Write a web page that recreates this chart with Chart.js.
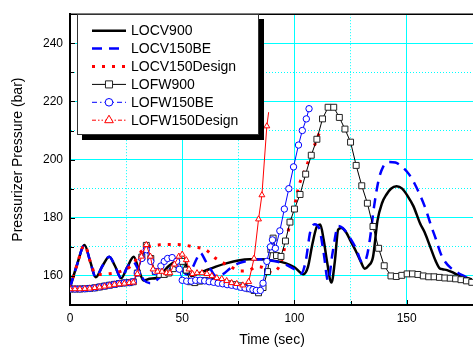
<!DOCTYPE html>
<html><head><meta charset="utf-8">
<script src="https://cdn.jsdelivr.net/npm/chart.js@4/dist/chart.umd.min.js"></script>
<style>html,body{margin:0;padding:0;background:#fff;overflow:hidden;} canvas{display:block;}</style>
</head><body>
<canvas id="c" width="480" height="349"></canvas>
<script>
const seriesNames = ['LOCV900','LOCV150BE','LOCV150Design','LOFW900','LOFW150BE','LOFW150Design'];
const xTickValues = [0,50,100,150];
const yTickValues = [160,180,200,220,240];

const locv900Time = [0,3,6.5,9,11.5,14.5,17.5,20,22.8,25.5,28.4,30.5,32.8,35.5,38.4,41,44,47,49.5,51.5,54,57,60,65,70,75,80,85.5,90,96,100,104,106,108,110,111.5,113,114.5,116.5,118,119.5,121,123,125,127.4,129.5,131.3,133,135,137,139,141,143,145.5,148,150.4,153,156,158,160.5,163,164.6,166,168,171,174,177,179];
const locv900P = [156,163.5,170.6,165,159.5,163.5,166.6,163.5,159.2,163,166.6,162.5,158.4,159,159.3,161,163.4,165,165.7,164,160,160.8,161.7,163.2,164.4,165.3,165.7,165.7,165.3,164.4,163,160.6,163,171,177,177.7,172.5,165,157.7,165,176,176.5,175,172,168.5,165,162.5,163.5,166.5,179,185,188,190,190.8,190,187.5,184,178,175,170,165,162.7,162.3,162,161,160,159.3,158.8];

const locv150BETime = [0,3,6.5,9,11.5,14.5,17.5,20,22.8,25.5,28,30.5,33,36,40,44,47,50,52,54,56.5,58,60.5,62.5,65,68,71.5,75,80,85,90,95,100,103,105,107,109,111,113,115,117,119.5,121.5,124,127.4,130.3,132,133.5,135.5,137.5,139.5,142,145,148,151,154,158,161,163,165,167,170,173,176,179];
const locv150BEP = [156,163.5,170.6,165,159.5,163.5,166.6,163.5,159.2,163,165,162,158.5,157.5,159.5,162,164,162,160.5,162,166,168,165,162.5,160,160.5,162.7,164.3,165.3,165.7,165.2,164.3,162.3,160.8,165,175,177.8,176.5,168,158.3,168,177.2,176.5,174,169.5,164.5,166,172,184,193,197.5,199.2,199,197.5,195,191,184,177,172.7,168,165,162.5,161,159.8,158.5];

const locv150DesignTime = [0,3,6.5,9,11.5,14,17,20,23,26,28.5,31,33.5,36,40,45,50,55,60.5,65,71,76,80,83,85.5,88,90,92,94,96,98,100,102,104.5,107,110,112];
const locv150DesignP = [156,163.5,170.6,165,160.5,160.5,160.7,161,161.7,162.7,164.5,167.7,169.5,170.3,170.7,170.8,170.7,170,169,166,163.4,161.7,162,163.2,163,162,161,162,164.5,171,178,184,191,196,201,207,211];

const lofw900Time = [0,2.2,4.4,6.6,8.8,11,13.2,15.4,17.6,19.8,22,24.2,26.4,28.2,30,32,34,36,38,40,42,44,46,48,50,51.8,53.6,55.6,57.8,60,62.2,64.4,66.6,68.8,71,73.2,75.4,77.6,79.8,82,84,86,88,89.5,90.5,92,94,96,98,100,102.5,105,107.5,110,112.5,115,117.5,120,122.5,125,127.5,130,132.5,135,137.5,140,143,145.4,147.8,150.2,152.6,155,157.4,159.8,162.2,164.6,167,169.4,171.8,174.2,176.6,179];
const lofw900P = [155.5,155.5,155.5,155.6,155.7,155.9,156.2,156.5,156.8,157.1,157.4,157.6,157.7,158,161,166.5,170.5,166,161.5,160.5,160.5,161,162.5,164,165,162,158,157.7,158.2,158.4,158.3,158.1,157.8,157.5,157.3,157,156.6,156.1,155.6,155,154.2,156,161.5,169,173,167,166.7,172,178.5,183,188,195,201.5,207,214,218,218,214.5,210.5,206,198,191,185,177,169.5,163.5,160,159.8,160.2,160.7,160.7,160.5,160,159.7,159.7,159.5,159.3,159.2,159,158.7,158.3,157.8];

const lofw150BETime = [0,2.2,4.4,6.6,8.8,11,13.2,15.4,17.6,19.8,22,24.2,26.4,28.2,30,32,34,36,38,40.5,42,43.5,45.5,47.5,48.7,50,52,54,56,58,60,62,64,66,68,70,72,74,76,78,80,81.5,83,84.8,86,87.7,89.3,90.2,91.5,93.5,95.5,97.5,99.6,101.8,103.5,105.3,106.5];
const lofw150BEP = [155.5,155.5,155.5,155.6,155.7,155.9,156.2,156.5,156.8,157.1,157.4,157.6,157.7,158,161,166,169,165,161.5,163.4,165,166,166.3,165,162.3,158.5,158.2,158.2,158.5,158.5,158.3,158,157.8,157.5,157.3,157,156.8,156.5,156.1,155.8,155.6,155.3,155,155,157.5,165,170,172.4,169.5,175.5,183,190,197.5,205,210,214,217.5];

const lofw150DesignTime = [0,2.2,4.4,6.6,8.8,11,13.2,15.4,17.6,19.8,22,24.2,26.4,28.2,30,31.8,34,35.8,37,39,41,43,44.5,46.5,48.5,50,51.8,53,54.6,56.6,58.8,61,63.2,65.4,67.6,69.8,72,74.3,77,79.6,82,84,85.5,87.7,88.5];
const lofw150DesignP = [155.5,155.5,155.5,155.6,155.7,155.9,156.1,156.4,156.7,157,157.2,157.4,157.6,157.8,160.7,166.7,170.7,166.7,162.3,161.5,161.5,161,161,164,166.7,167.4,165.5,162.3,160.7,161,161,160.7,160,159.3,159,158.3,157.6,157.3,156.8,158,166,179.5,187.8,211.5,216.3];

const FONT = "'Liberation Sans', Arial, Helvetica, sans-serif";
function pts(T, P) { return T.map((t, i) => ({x: t, y: P[i]})); }

const datasets = [
  {label: seriesNames[0], data: pts(locv900Time, locv900P), borderColor: '#000000', borderWidth: 2.5, pointRadius: 0, cubicInterpolationMode: 'monotone', order: 6},
  {label: seriesNames[1], data: pts(locv150BETime, locv150BEP), borderColor: '#0000FF', borderWidth: 2.5, borderDash: [10, 7], pointRadius: 0, cubicInterpolationMode: 'monotone', order: 5},
  {label: seriesNames[2], data: pts(locv150DesignTime, locv150DesignP), borderColor: '#FF0000', borderWidth: 3, borderDash: [3, 7], pointRadius: 0, cubicInterpolationMode: 'monotone', order: 4},
  {label: seriesNames[3], data: pts(lofw900Time, lofw900P), borderColor: '#000000', borderWidth: 1, pointStyle: 'rect', pointRadius: 4.2, pointBorderColor: '#222222', pointBackgroundColor: '#ffffff', pointBorderWidth: 1, order: 3, legendDash: []},
  {label: seriesNames[4], data: pts(lofw150BETime, lofw150BEP), borderColor: '#0000FF', borderWidth: 1, pointStyle: 'circle', pointRadius: 3.2, pointBorderColor: '#0000FF', pointBackgroundColor: '#ffffff', pointBorderWidth: 1, order: 2, legendDash: [5, 3, 1.5, 3]},
  {label: seriesNames[5], data: pts(lofw150DesignTime, lofw150DesignP), borderColor: '#FF0000', borderWidth: 1, pointStyle: 'triangle', pointRadius: c => c.dataIndex === lofw150DesignTime.length - 1 ? 0 : 3.4, pointBorderColor: '#FF0000', pointBackgroundColor: '#ffffff', pointBorderWidth: 1, order: 1, legendDash: [4, 2, 1.5, 2, 1.5, 2]}
];
datasets.forEach(d => { d.fill = false; d.showLine = true; });

function drawMarker(ctx, style, r, x, y) {
  ctx.beginPath();
  if (style === 'rect') {
    const s = Math.SQRT1_2 * r;
    ctx.rect(x - s, y - s, 2 * s, 2 * s);
  } else if (style === 'circle') {
    ctx.arc(x, y, r, 0, Math.PI * 2);
  } else if (style === 'triangle') {
    ctx.moveTo(x, y - r);
    ctx.lineTo(x + r * Math.sin(Math.PI / 3), y + r * 0.5);
    ctx.lineTo(x - r * Math.sin(Math.PI / 3), y + r * 0.5);
    ctx.closePath();
  }
  ctx.fillStyle = '#fff';
  ctx.fill();
  ctx.stroke();
}

const framePlugin = {
  id: 'frame',
  afterDraw(chart) {
    const {ctx, chartArea: a, scales} = chart;
    ctx.save();
    ctx.strokeStyle = '#000';
    ctx.lineWidth = 1.5;
    ctx.beginPath();
    ctx.moveTo(a.left, a.top); ctx.lineTo(a.right, a.top); ctx.lineTo(a.right, a.bottom);
    ctx.stroke();
    ctx.lineWidth = 1;
    scales.x.ticks.forEach(t => {
      if (t.value <= scales.x.min || t.value >= scales.x.max) return;
      const px = Math.round(scales.x.getPixelForValue(t.value)) + 0.5;
      const len = t.value % 50 === 0 ? 5 : 4;
      ctx.beginPath(); ctx.moveTo(px, a.bottom); ctx.lineTo(px, a.bottom - len); ctx.stroke();
    });
    scales.y.ticks.forEach(t => {
      if (t.value <= scales.y.min || t.value >= scales.y.max) return;
      const py = Math.round(scales.y.getPixelForValue(t.value)) + 0.5;
      const len = t.value % 20 === 0 ? 5 : 4;
      ctx.beginPath(); ctx.moveTo(a.left, py); ctx.lineTo(a.left + len, py); ctx.stroke();
    });
    const L = 77, T = 14, R = 259, B = 135;
    ctx.fillStyle = '#000';
    ctx.fillRect(L + 5, T + 5, R - L, B - T);
    ctx.fillStyle = '#fff';
    ctx.fillRect(L, T, R - L, B - T);
    ctx.strokeStyle = '#333';
    ctx.lineWidth = 1;
    ctx.strokeRect(L + 0.5, T + 0.5, R - L - 1, B - T - 1);
    ctx.font = '14px ' + FONT;
    ctx.textBaseline = 'middle';
    ctx.textAlign = 'left';
    chart.data.datasets.forEach((d, i) => {
      const y = 30.7 + i * 17.9;
      ctx.save();
      ctx.strokeStyle = d.borderColor;
      ctx.lineWidth = d.borderWidth;
      ctx.setLineDash(d.legendDash || d.borderDash || []);
      ctx.beginPath(); ctx.moveTo(92, y); ctx.lineTo(126, y); ctx.stroke();
      ctx.setLineDash([]);
      if (d.pointStyle) {
        ctx.strokeStyle = d.pointBorderColor;
        ctx.lineWidth = 1;
        drawMarker(ctx, d.pointStyle, d.pointStyle === 'rect' ? 5 : (d.pointStyle === 'circle' ? 3.8 : 5), 109, y);
      }
      ctx.restore();
      ctx.fillStyle = '#000';
      ctx.fillText(d.label, 131, y + 0.5);
    });
    ctx.restore();
  }
};

new Chart(document.getElementById('c'), {
  type: 'line',
  data: {datasets},
  plugins: [framePlugin],
  options: {
    responsive: false, animation: false, devicePixelRatio: 1,
    layout: {padding: {left: 0, right: 3, top: 7, bottom: 0}},
    plugins: {legend: {display: false}, tooltip: {enabled: false}},
    elements: {line: {tension: 0}},
    scales: {
      x: {
        type: 'linear', min: 0, max: 180,
        afterFit(s) { s.height = 44; },
        ticks: {stepSize: 25, autoSkip: false, maxRotation: 0, padding: 6, color: '#000', font: {family: FONT, size: 12},
          callback: v => xTickValues.includes(v) ? String(v) : ''},
        grid: {color: '#00FFFF', lineWidth: 1, drawTicks: false},
        border: {display: true, color: '#000', width: 2, dash: c => (c.tick && c.tick.value % 50 !== 0) ? [1, 2] : []},
        title: {display: true, text: 'Time (sec)', color: '#000', font: {family: FONT, size: 14}, padding: {top: 0, bottom: 0}}
      },
      y: {
        type: 'linear', min: 150, max: 250,
        afterFit(s) { s.width = 70; },
        ticks: {stepSize: 10, autoSkip: false, padding: 7, color: '#000', font: {family: FONT, size: 12},
          callback: v => yTickValues.includes(v) ? String(v) : ''},
        grid: {color: '#00FFFF', lineWidth: 1, drawTicks: false},
        border: {display: true, color: '#000', width: 2, dash: c => (c.tick && c.tick.value % 20 !== 0) ? [1, 2] : []},
        title: {display: true, text: 'Pressurizer Pressure (bar)', color: '#000', font: {family: FONT, size: 14}, padding: {top: 10, bottom: 0}}
      }
    }
  }
});
</script>
</body></html>
